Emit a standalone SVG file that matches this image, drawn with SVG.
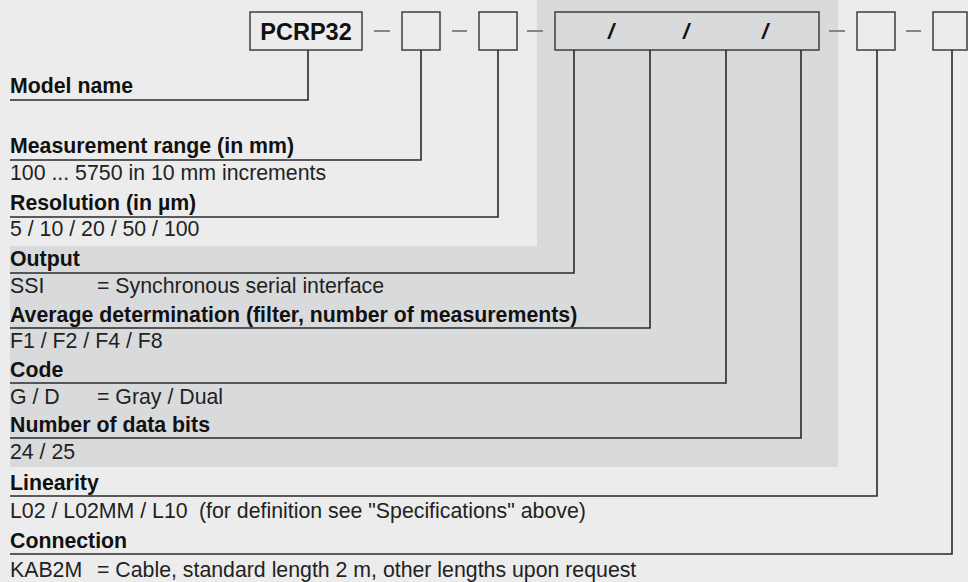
<svg xmlns="http://www.w3.org/2000/svg" width="968" height="582" viewBox="0 0 968 582">
<style>
.bg{fill:#ececec}
.shade{fill:#d9dadc}
.box{fill:#ececec;stroke:#333;stroke-width:1.4}
.boxs{fill:#d9dadc;stroke:#333;stroke-width:1.4}
.dash{stroke:#858585;stroke-width:2}
.conn{fill:none;stroke:#2a2a2a;stroke-width:1.6}
.h{font-family:"Liberation Sans",Arial,sans-serif;font-size:21.3px;font-weight:bold;fill:#111}
.v{font-family:"Liberation Sans",Arial,sans-serif;font-size:21.3px;fill:#222}
.code{font-family:"Liberation Sans",Arial,sans-serif;font-size:23.5px;font-weight:bold;fill:#111}
.sl{font-family:"Liberation Sans",Arial,sans-serif;font-size:22px;font-weight:bold;font-style:italic;fill:#111}
</style>
<rect class="bg" x="0" y="0" width="968" height="582"/>
<polygon class="shade" points="537,0 838,0 838,467 10,467 10,246 537,246"/>

<g id="code-boxes">
  <g id="box-model"><rect class="box" x="250" y="12" width="112" height="38"/><text class="code" x="306" y="40" text-anchor="middle">PCRP32</text></g>
  <line class="dash" x1="374" y1="31" x2="390" y2="31"/>
  <g id="box-range"><rect class="box" x="402" y="12" width="38" height="38"/></g>
  <line class="dash" x1="452" y1="31" x2="467" y2="31"/>
  <g id="box-resolution"><rect class="box" x="479" y="12" width="38" height="38"/></g>
  <line class="dash" x1="527" y1="31" x2="543" y2="31"/>
  <g id="box-interface"><rect class="boxs" x="555" y="12" width="264" height="38"/>
    <text class="sl" x="611" y="39" text-anchor="middle">/</text>
    <text class="sl" x="686" y="39" text-anchor="middle">/</text>
    <text class="sl" x="765" y="39" text-anchor="middle">/</text>
  </g>
  <line class="dash" x1="829" y1="31" x2="845" y2="31"/>
  <g id="box-linearity"><rect class="box" x="857" y="12" width="38" height="38"/></g>
  <line class="dash" x1="906" y1="31" x2="921" y2="31"/>
  <g id="box-connection"><rect class="box" x="933" y="12" width="34" height="38"/></g>
</g>

<g id="connectors">
  <path class="conn" d="M308,50 V100 H10"/>
  <path class="conn" d="M421,50 V160 H10"/>
  <path class="conn" d="M498,50 V217 H10"/>
  <path class="conn" d="M574,50 V273 H10"/>
  <path class="conn" d="M650,50 V328 H10"/>
  <path class="conn" d="M726,50 V383 H10"/>
  <path class="conn" d="M801,50 V438 H10"/>
  <path class="conn" d="M877,50 V496 H10"/>
  <path class="conn" d="M952,50 V554 H10"/>
</g>

<g id="labels">
  <g id="lbl-model"><text class="h" x="10" y="93">Model name</text></g>
  <g id="lbl-range"><text class="h" x="10" y="153">Measurement range (in mm)</text><text class="v" x="10" y="180">100 ... 5750 in 10 mm increments</text></g>
  <g id="lbl-resolution"><text class="h" x="10" y="210">Resolution (in µm)</text><text class="v" x="10" y="236">5 / 10 / 20 / 50 / 100</text></g>
  <g id="lbl-output"><text class="h" x="10" y="266">Output</text><text class="v" x="10" y="293">SSI<tspan x="97">= Synchronous serial interface</tspan></text></g>
  <g id="lbl-average"><text class="h" x="10" y="322">Average determination (filter, number of measurements)</text><text class="v" x="10" y="348">F1 / F2 / F4 / F8</text></g>
  <g id="lbl-code"><text class="h" x="10" y="377">Code</text><text class="v" x="10" y="404">G / D<tspan x="97">= Gray / Dual</tspan></text></g>
  <g id="lbl-bits"><text class="h" x="10" y="432">Number of data bits</text><text class="v" x="10" y="459">24 / 25</text></g>
  <g id="lbl-linearity"><text class="h" x="10" y="490">Linearity</text><text class="v" x="10" y="518">L02 / L02MM / L10<tspan x="199">(for definition see "Specifications" above)</tspan></text></g>
  <g id="lbl-connection"><text class="h" x="10" y="548">Connection</text><text class="v" x="10" y="577">KAB2M<tspan x="97">= Cable, standard length 2 m, other lengths upon request</tspan></text></g>
</g>
</svg>
